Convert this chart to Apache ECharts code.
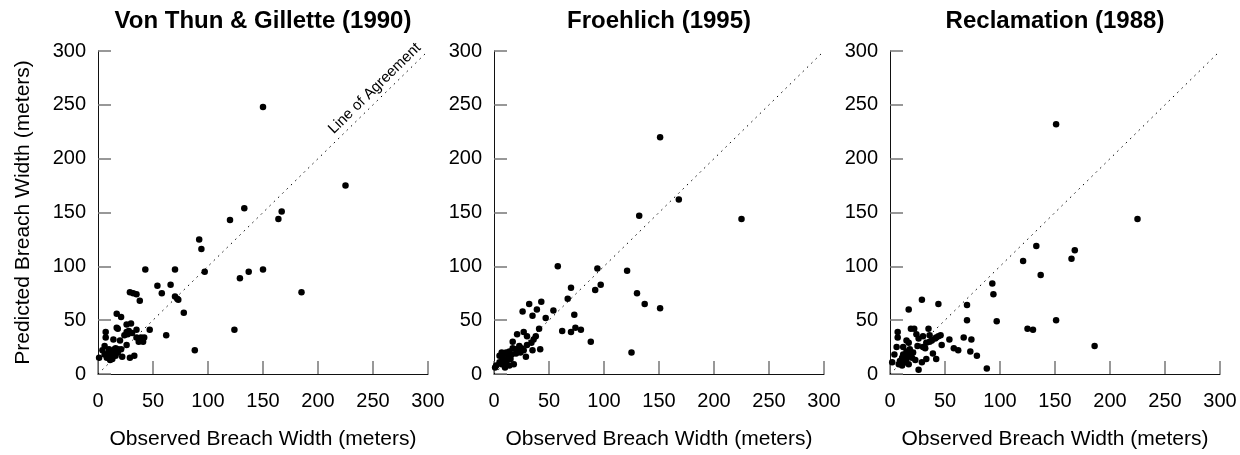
<!DOCTYPE html>
<html>
<head>
<meta charset="utf-8">
<script src="https://cdn.jsdelivr.net/npm/echarts@6/dist/echarts.min.js"></script>
<style>
html,body{margin:0;padding:0;background:#fff;}
#chart{width:1240px;height:455px;}
</style>
</head>
<body>
<div id="chart"></div>
<script>
// ---- data ----
var panelTitles = ['Von Thun & Gillette (1990)', 'Froehlich (1995)', 'Reclamation (1988)'];
var tickValues = [0, 50, 100, 150, 200, 250, 300];
var agreementLine = [[0, 0], [300, 300]];
var xAxisTitle = 'Observed Breach Width (meters)';
var yAxisTitle = 'Predicted Breach Width (meters)';
var agreementLabel = 'Line of Agreement';

var vonThunPoints = [
  [150,248],[225,175],[133,154],[167,151],[164,144],[120,143],[92,125],[94,116],[43,97],[70,97],
  [97,95],[150,97],[137,95],[129,89],[185,76],[54,82],[66,83],[58,75],[29,76],[32,75],[35,74],
  [38,68],[70,72],[72,70],[73,69],[78,57],[17,56],[21,53],[124,41],[88,22],[62,36],[47,41],
  [30,47],[26,46],[35,41],[17,43],[18,42],[7,39],[7,34],[24,36],[26,39],[28,40],[31,38],[27,37],
  [35,34],[39,34],[42,34],[37,30],[41,30],[14,32],[20,31],[26,27],[6,26],[4,22],[10,23],[15,23],
  [18,23],[21,23],[16,24],[1,15],[8,15],[10,16],[12,17],[14,19],[16,17],[22,16],[29,15],[33,17],
  [11,13],[13,14],[18,20],[9,19],[12,21],[6,18]
];
var froehlichPoints = [
  [151,220],[168,162],[132,147],[225,144],[58,100],[94,98],[121,96],[97,83],[92,78],[70,80],
  [67,70],[130,75],[137,65],[151,61],[43,67],[32,65],[39,60],[26,58],[54,59],[35,54],[47,52],
  [73,55],[41,42],[62,40],[70,39],[74,43],[79,41],[88,30],[125,20],[21,37],[27,39],[30,35],
  [38,35],[36,32],[34,29],[17,30],[42,23],[35,22],[29,16],[23,26],[25,24],[20,23],[17,24],
  [14,21],[11,20],[8,18],[7,20],[5,17],[8,14],[11,11],[15,14],[18,9],[2,8],[1,6],[5,11],[13,17],
  [10,6],[7,9],[20,19],[24,20],[27,22],[12,14],[16,18],[30,27],[14,8]
];
var reclamationPoints = [
  [151,232],[225,144],[133,119],[168,115],[165,107],[121,105],[137,92],[93,84],[94,74],[29,69],
  [44,65],[70,64],[17,60],[70,50],[97,49],[151,50],[125,42],[130,41],[186,26],[88,5],[26,4],
  [79,17],[73,21],[74,32],[67,34],[62,22],[58,24],[54,32],[47,27],[46,36],[42,34],[35,42],
  [19,42],[22,42],[7,39],[7,34],[6,25],[4,18],[2,11],[15,31],[17,29],[24,37],[26,33],[30,35],
  [33,29],[36,30],[38,31],[41,33],[30,25],[32,24],[25,26],[39,19],[42,14],[33,14],[29,11],
  [23,13],[18,18],[15,21],[12,18],[11,15],[9,12],[14,11],[17,9],[20,15],[21,20],[14,17],[8,9],
  [11,8],[15,14],[18,23],[36,36],[44,35],[12,25]
];
var panelPoints = [vonThunPoints, froehlichPoints, reclamationPoints];

// ---- layout ----
var FONT = '"Liberation Sans", Arial, Helvetica, sans-serif';
var gridLefts = [98, 494, 890];
var gridWidth = 330, gridTop = 51, gridHeight = 329;

var grids = [], xAxes = [], yAxes = [], series = [], graphics = [];
for (var i = 0; i < 3; i++) {
  grids.push({left: gridLefts[i], top: gridTop, width: gridWidth, height: gridHeight, containLabel: false});
  var common = {
    type: 'value', gridIndex: i,
    min: tickValues[0], max: tickValues[tickValues.length - 1],
    interval: tickValues[1] - tickValues[0],
    splitLine: {show: false},
    axisLine: {show: true, onZero: false, lineStyle: {color: '#111', width: 1}},
    axisTick: {show: true, inside: true, length: 13, lineStyle: {color: '#777', width: 1.5}},
    nameTextStyle: {fontSize: 21, color: '#000', fontFamily: FONT}
  };
  xAxes.push(Object.assign({}, common, {
    axisLabel: {fontSize: 20, color: '#000', fontFamily: FONT, margin: 17},
    name: xAxisTitle, nameLocation: 'middle', nameGap: 55
  }));
  yAxes.push(Object.assign({}, common, {
    axisLabel: {fontSize: 20, color: '#000', fontFamily: FONT, margin: 12},
    name: i === 0 ? yAxisTitle : '', nameLocation: 'middle', nameGap: 64
  }));
  series.push({
    type: 'scatter', xAxisIndex: i, yAxisIndex: i,
    data: panelPoints[i], symbol: 'circle', symbolSize: 6.5,
    itemStyle: {color: '#000', opacity: 1}, silent: true,
    markLine: {
      silent: true, symbol: 'none', animation: false,
      lineStyle: {type: [1.5, 4.5], color: '#000', width: 1},
      label: {show: i === 0, position: 'insideEndTop', formatter: agreementLabel,
              fontSize: 15, color: '#000', fontFamily: FONT, distance: 3},
      emphasis: {disabled: true},
      data: [[{coord: agreementLine[0]}, {coord: agreementLine[1]}]]
    }
  });
  graphics.push({
    type: 'text', x: gridLefts[i] + gridWidth / 2, y: 21,
    style: {text: panelTitles[i], font: 'bold 24px ' + FONT, fill: '#000',
            textAlign: 'center', textVerticalAlign: 'middle'}
  });
}

var chart = echarts.init(document.getElementById('chart'), null, {renderer: 'canvas'});
chart.setOption({
  animation: false,
  backgroundColor: '#fff',
  grid: grids, xAxis: xAxes, yAxis: yAxes, series: series,
  graphic: graphics
});
</script>
</body>
</html>
